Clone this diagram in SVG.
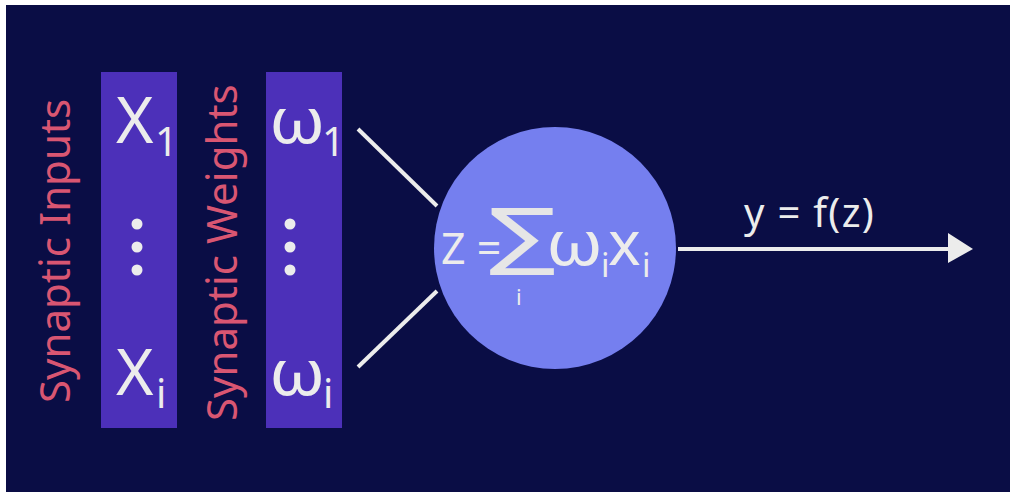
<svg xmlns="http://www.w3.org/2000/svg" width="1010" height="492" viewBox="0 0 1010 492">
<style>
.bg{fill:#0a0d45}
.box{fill:#4c30b9}
.lbl{fill:#d95672;font-family:"Noto Sans","Open Sans",sans-serif;font-size:42px}
.t{fill:#ececec;font-family:"Noto Sans","Open Sans",sans-serif}
.dot{fill:#ececec}
.conn{stroke:#ececec;stroke-width:4;fill:none}
</style>
<rect x="0" y="0" width="1010" height="492" fill="#ffffff"/>
<rect class="bg" x="6" y="5" width="1004" height="487"/>
<g id="label-inputs">
<text class="lbl" transform="translate(70,403) rotate(-90)">Synaptic Inputs</text>
</g>
<g id="inputs">
<rect class="box" x="101" y="72" width="76" height="356"/>
<text class="t" x="116" y="143" font-size="64">X</text>
<text class="t" x="155" y="156" font-size="40">1</text>
<circle class="dot" cx="137" cy="224" r="5.5"/>
<circle class="dot" cx="137" cy="247" r="5.5"/>
<circle class="dot" cx="137" cy="270" r="5.5"/>
<text class="t" x="116" y="395" font-size="64">X</text>
<text class="t" x="156" y="408" font-size="40">i</text>
</g>
<g id="label-weights">
<text class="lbl" transform="translate(237,421) rotate(-90)">Synaptic Weights</text>
</g>
<g id="weights">
<rect class="box" x="266" y="72" width="76" height="356"/>
<text class="t" transform="translate(269,143) scale(1.1,1)" font-size="64">ω</text>
<text class="t" x="322" y="156" font-size="40">1</text>
<circle class="dot" cx="290" cy="224" r="5.5"/>
<circle class="dot" cx="290" cy="247" r="5.5"/>
<circle class="dot" cx="290" cy="270" r="5.5"/>
<text class="t" transform="translate(269,395) scale(1.1,1)" font-size="64">ω</text>
<text class="t" x="323" y="408" font-size="40">i</text>
</g>
<g id="neuron">
<circle cx="555" cy="248" r="121" fill="#757fef"/>
<text class="t" x="441" y="264" font-size="43">Z =</text>
<text transform="translate(489,261) scale(1.55,1.15)" font-family="DejaVu Sans,sans-serif" font-size="64" fill="#e6e6e6">∑</text>
<text class="t" x="516" y="305" font-size="22">i</text>
<text class="t" transform="translate(546,265) scale(1.15,1)" font-size="62">ω</text>
<text class="t" x="601" y="277" font-size="33">i</text>
<text class="t" x="608" y="265" font-size="62">x</text>
<text class="t" x="642" y="277" font-size="33">i</text>
</g>
<g id="connectors">
<line class="conn" x1="358" y1="129" x2="437" y2="206"/>
<line class="conn" x1="437" y1="291" x2="358" y2="367"/>
<line class="conn" x1="678" y1="249" x2="950" y2="249"/>
<polygon points="973,249 948,233 948,263" fill="#ececec"/>
<text class="t" x="744" y="227" font-size="40" letter-spacing="1.3">y = f(z)</text>
</g>
</svg>
